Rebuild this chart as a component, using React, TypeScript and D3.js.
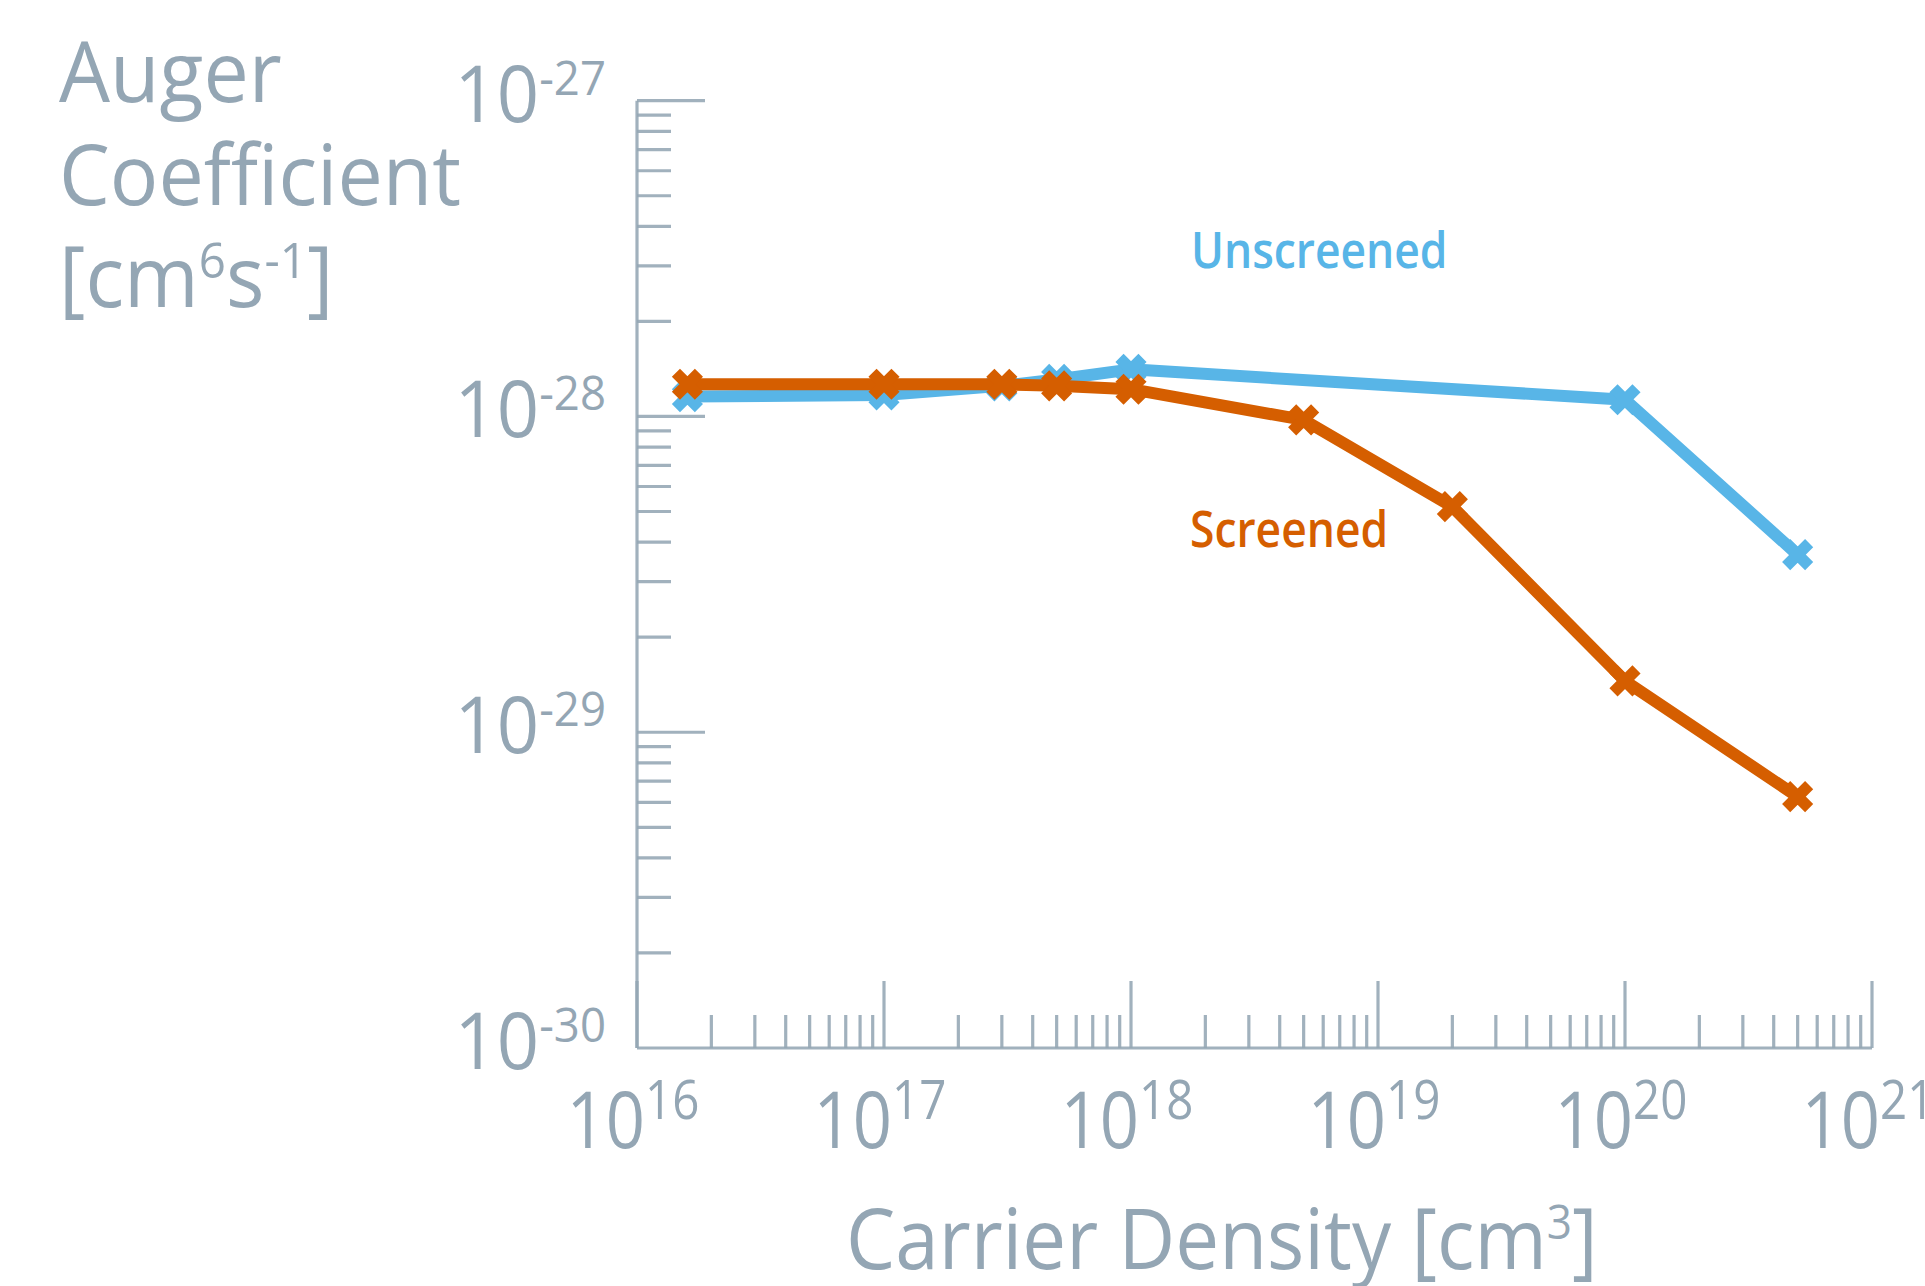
import React from "react";
import * as d3 from "d3";

// Carrier density [cm^-3] and Auger coefficient [cm^6 s^-1] for each series
const unscreenedDensity = [1.6e16, 1e17, 3e17, 5e17, 1e18, 1e20, 5e20];
const unscreenedAuger = [1.156e-28, 1.17e-28, 1.25e-28, 1.31e-28, 1.41e-28, 1.13e-28, 3.65e-29];

const screenedDensity = [1.6e16, 1e17, 3e17, 5e17, 1e18, 5e18, 2e19, 1e20, 5e20];
const screenedAuger = [1.265e-28, 1.265e-28, 1.265e-28, 1.25e-28, 1.22e-28, 9.75e-29, 5.18e-29, 1.454e-29, 6.25e-30];

// Decade exponents used for the tick labels
const xExponents = [16, 17, 18, 19, 20, 21];
const yExponents = [-27, -28, -29, -30];

const seriesNames = ["Unscreened", "Screened"];

const W = 1925;
const H = 1286;
const AXIS = "#94a6b4";
const BLUE = "#58b5e7";
const ORANGE = "#d55e00";
const FONT = "'Open Sans', 'Noto Sans', sans-serif";

const x = d3.scaleLog().domain([1e16, 1e21]).range([637, 1872]);
const y = d3.scaleLog().domain([1e-30, 1e-27]).range([1048, 100.7]);

const isDecade = (v: number) => Math.abs(Math.log10(v) - Math.round(Math.log10(v))) < 1e-9;

// Text squeezed horizontally to match a narrow humanist face
function Squeezed({ x: tx, y: ty, sx, children }: { x: number; y: number; sx: number; children: React.ReactNode }) {
  return <g transform={`translate(${tx},${ty}) scale(${sx},1)`}>{children}</g>;
}

function Marker({ cx, cy, color }: { cx: number; cy: number; color: string }) {
  const s = 11.5;
  return (
    <path
      d={`M${cx - s},${cy - s}L${cx + s},${cy + s}M${cx + s},${cy - s}L${cx - s},${cy + s}`}
      stroke={color}
      strokeWidth={11.5}
      strokeLinecap="butt"
      fill="none"
    />
  );
}

export default function App() {
  const line = d3
    .line<[number, number]>()
    .x((d) => x(d[0]))
    .y((d) => y(d[1]));

  const unscreened: [number, number][] = unscreenedDensity.map((d, i) => [d, unscreenedAuger[i]]);
  const screened: [number, number][] = screenedDensity.map((d, i) => [d, screenedAuger[i]]);

  const xTicks = x.ticks();
  const yTicks = y.ticks();
  const x0 = x.range()[0];
  const y0 = y.range()[0];

  return (
    <svg
      width={W}
      height={H}
      viewBox={`0 0 ${W} ${H}`}
      style={{ position: "absolute", left: 0, top: 0, background: "#fff" }}
      fontFamily={FONT}
    >
      {/* axes */}
      <g stroke={AXIS} strokeWidth={3.2} strokeOpacity={0.88}>
        <line x1={x0} x2={x.range()[1]} y1={y0} y2={y0} />
        <line x1={x0} x2={x0} y1={y0} y2={y.range()[1]} />
        {xTicks.map((t, i) => {
          const len = isDecade(t) ? 67 : 33;
          return <line key={"xt" + i} x1={x(t)} x2={x(t)} y1={y0} y2={y0 - len} />;
        })}
        {yTicks.map((t, i) => {
          const len = isDecade(t) ? 68 : 34;
          return <line key={"yt" + i} x1={x0} x2={x0 + len} y1={y(t)} y2={y(t)} />;
        })}
      </g>

      {/* y tick labels */}
      {yExponents.map((e) => (
        <Squeezed key={"yl" + e} x={606} y={y(Math.pow(10, e)) + 21} sx={0.95}>
          <text textAnchor="end" fill={AXIS} fontSize={78}>
            <tspan>10</tspan>
            <tspan fontSize={48} dy={-27}>{String(e)}</tspan>
          </text>
        </Squeezed>
      ))}

      {/* x tick labels */}
      {xExponents.map((e) => (
        <Squeezed key={"xl" + e} x={x(Math.pow(10, e)) - 4} y={1148} sx={0.88}>
          <text textAnchor="middle" fill={AXIS} fontSize={78}>
            <tspan>10</tspan>
            <tspan fontSize={54} dy={-29}>{String(e)}</tspan>
          </text>
        </Squeezed>
      ))}

      {/* y axis title */}
      <Squeezed x={59} y={101.7} sx={0.95}>
        <text fill={AXIS} fontSize={85}>Auger</text>
      </Squeezed>
      <Squeezed x={59} y={205} sx={0.95}>
        <text fill={AXIS} fontSize={85}>Coefficient</text>
      </Squeezed>
      <Squeezed x={59} y={306.7} sx={0.95}>
        <text fill={AXIS} fontSize={85}>
          <tspan>[cm</tspan>
          <tspan fontSize={50} dy={-29}>6</tspan>
          <tspan dy={29}>s</tspan>
          <tspan fontSize={50} dy={-29}>-1</tspan>
          <tspan dy={29}>]</tspan>
        </text>
      </Squeezed>

      {/* x axis title */}
      <Squeezed x={846} y={1269} sx={0.92}>
        <text fill={AXIS} fontSize={85}>
          <tspan>Carrier Density [cm</tspan>
          <tspan fontSize={48} dy={-30}>3</tspan>
          <tspan dy={30}>]</tspan>
        </text>
      </Squeezed>

      {/* series */}
      <path d={line(unscreened) || ""} fill="none" stroke={BLUE} strokeWidth={12} strokeLinejoin="round" />
      {unscreened.map((d, i) => (
        <Marker key={"um" + i} cx={x(d[0])} cy={y(d[1])} color={BLUE} />
      ))}
      <path d={line(screened) || ""} fill="none" stroke={ORANGE} strokeWidth={12} strokeLinejoin="round" />
      {screened.map((d, i) => (
        <Marker key={"sm" + i} cx={x(d[0])} cy={y(d[1])} color={ORANGE} />
      ))}

      {/* series labels */}
      <Squeezed x={1191} y={268} sx={0.87}>
        <text fill={BLUE} fontSize={51} fontWeight={600}>{seriesNames[0]}</text>
      </Squeezed>
      <Squeezed x={1190} y={547} sx={0.87}>
        <text fill={ORANGE} fontSize={51} fontWeight={600}>{seriesNames[1]}</text>
      </Squeezed>
    </svg>
  );
}
